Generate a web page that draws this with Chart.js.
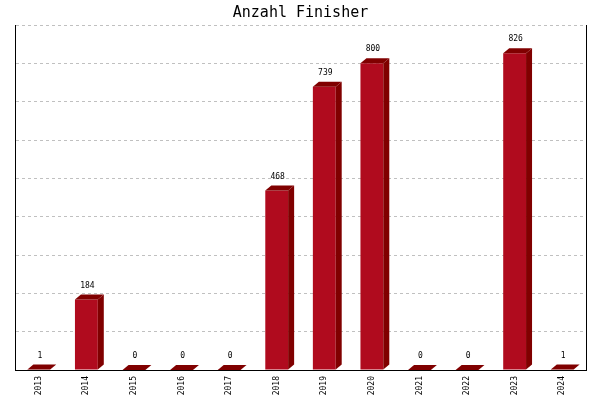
<!DOCTYPE html>
<html>
<head>
<meta charset="utf-8">
<script src="https://cdn.jsdelivr.net/npm/chart.js@4/dist/chart.umd.min.js"></script>
<style>
html,body{margin:0;padding:0;background:#fff;}
#wrap{width:600px;height:400px;}
</style>
</head>
<body>
<div id="wrap"><canvas id="c" width="600" height="400"></canvas></div>
<script>
const years = ['2013','2014','2015','2016','2017','2018','2019','2020','2021','2022','2023','2024'];
const finishers = [1,184,0,0,0,468,739,800,0,0,826,1];
const chartTitle = 'Anzahl Finisher';
const yMax = 900;
const yStep = 100;

const FRONT = '#B00B1E';
const DARK = '#800000';
const DX = 6, DY = 5;

const bar3d = {
  id: 'bar3d',
  afterDatasetsDraw(chart) {
    const ctx = chart.ctx;
    const meta = chart.getDatasetMeta(0);
    ctx.save();
    meta.data.forEach((el, i) => {
      const p = el.getProps(['x','y','base','width'], true);
      const x0 = p.x - p.width / 2, x1 = p.x + p.width / 2;
      const y = p.y, b = p.base;
      ctx.fillStyle = DARK;
      // top face
      ctx.beginPath();
      ctx.moveTo(x0, y);
      ctx.lineTo(x1, y);
      ctx.lineTo(x1 + DX, y - DY);
      ctx.lineTo(x0 + DX, y - DY);
      ctx.closePath();
      ctx.fill();
      // side face
      if (b - y > 0) {
        ctx.beginPath();
        ctx.moveTo(x1, y);
        ctx.lineTo(x1 + DX, y - DY);
        ctx.lineTo(x1 + DX, b - DY);
        ctx.lineTo(x1, b);
        ctx.closePath();
        ctx.fill();
      }
      // value label
      ctx.fillStyle = '#000';
      ctx.font = '8px "DejaVu Sans Mono"';
      ctx.textAlign = 'center';
      ctx.textBaseline = 'middle';
      ctx.fillText(String(finishers[i]), p.x + 1, y - DY - 9);
    });
    // right frame line
    const a = chart.chartArea;
    ctx.strokeStyle = '#000';
    ctx.lineWidth = 1;
    ctx.beginPath();
    ctx.moveTo(Math.round(a.right) + 0.5, a.top);
    ctx.lineTo(Math.round(a.right) + 0.5, a.bottom);
    ctx.stroke();
    ctx.restore();
  }
};

new Chart(document.getElementById('c'), {
  type: 'bar',
  data: {
    labels: years,
    datasets: [{
      data: finishers,
      backgroundColor: FRONT,
      borderWidth: 0,
      categoryPercentage: 1,
      barPercentage: 0.48
    }]
  },
  options: {
    responsive: false,
    animation: false,
    layout: { padding: { left: 15, right: 14, top: 0, bottom: 0 } },
    plugins: {
      legend: { display: false },
      tooltip: { enabled: false },
      title: {
        display: true,
        text: chartTitle,
        color: '#000',
        font: { family: 'DejaVu Sans Mono', size: 15, weight: 'normal', lineHeight: 1.2 },
        padding: { top: 4, bottom: 3 }
      }
    },
    scales: {
      x: {
        grid: { display: false, drawTicks: false },
        border: { display: true, color: '#000', width: 1 },
        ticks: {
          color: '#000',
          font: { family: 'DejaVu Sans Mono', size: 8 },
          minRotation: 90, maxRotation: 90,
          padding: 6,
          autoSkip: false
        },
        afterFit(s) { s.height = 30; }
      },
      y: {
        min: 0, max: yMax,
        ticks: { display: false, stepSize: yStep },
        grid: { color: '#c0c0c0', drawTicks: false, tickLength: 0 },
        border: { display: true, color: '#000', width: 1, dash: [3,3] },
        afterFit(s) { s.width = 0; }
      }
    }
  },
  plugins: [bar3d]
});
</script>
</body>
</html>
